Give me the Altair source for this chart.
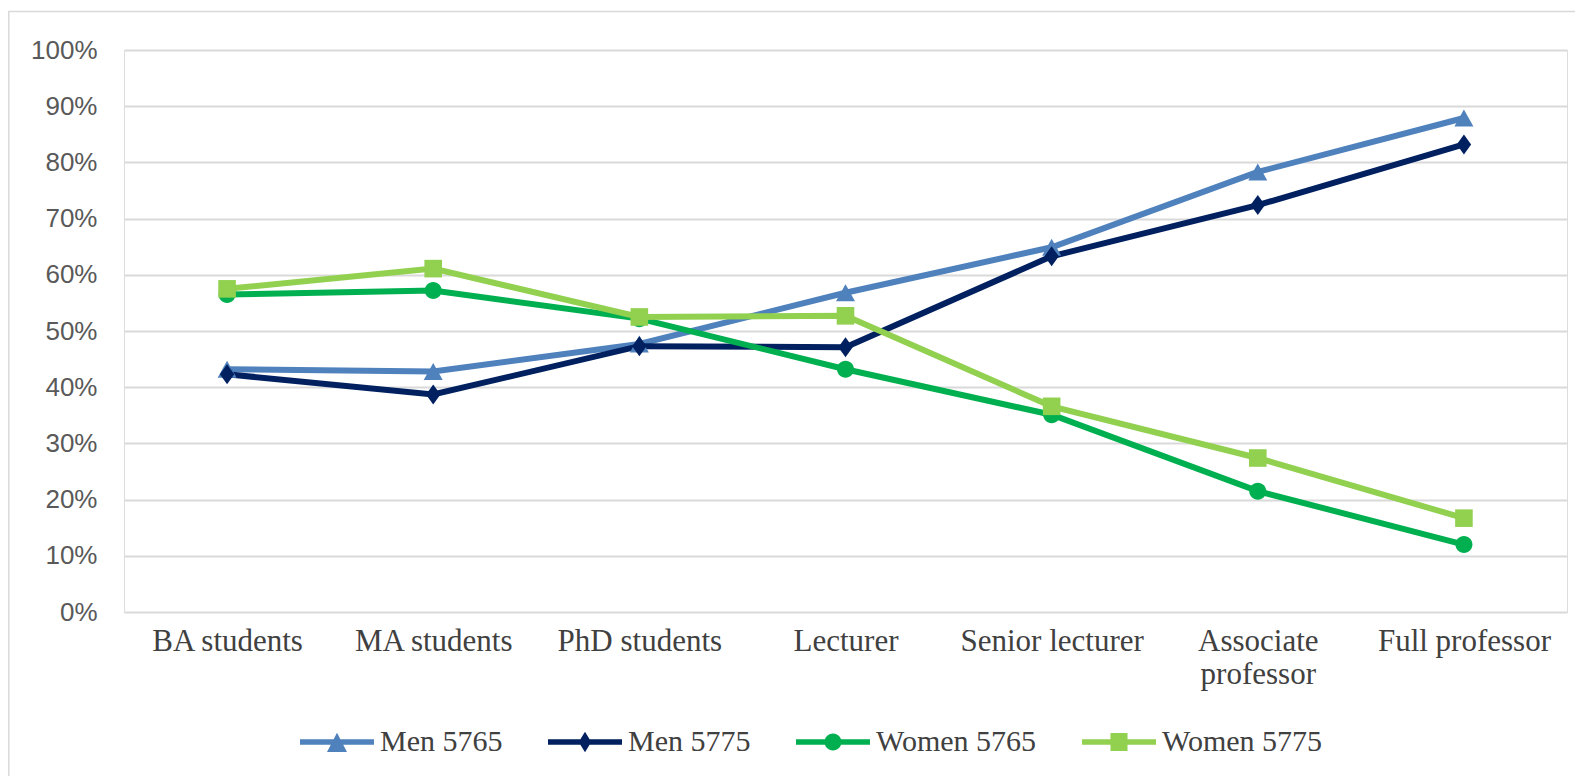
import altair as alt
import pandas as pd

categories = ["BA students", "MA students", "PhD students", "Lecturer",
              "Senior lecturer", "Associate professor", "Full professor"]
series_names = ["Men 5765", "Men 5775", "Women 5765", "Women 5775"]
men_5765 = [0.432, 0.428, 0.477, 0.568, 0.649, 0.783, 0.879]
men_5775 = [0.423, 0.387, 0.473, 0.471, 0.633, 0.724, 0.832]
women_5765 = [0.565, 0.572, 0.522, 0.432, 0.351, 0.215, 0.120]
women_5775 = [0.575, 0.611, 0.525, 0.527, 0.366, 0.274, 0.167]
y_ticks = [0.0, 0.1, 0.2, 0.3, 0.4, 0.5, 0.6, 0.7, 0.8, 0.9, 1.0]
colors = ["#4F81BD", "#002060", "#00B050", "#92D050"]

series_values = [men_5765, men_5775, women_5765, women_5775]
rows = []
for name, vals in zip(series_names, series_values):
    for i, (c, v) in enumerate(zip(categories, vals)):
        rows.append({"category": c, "series": name, "value": v, "idx": i})
df = pd.DataFrame(rows)

# marker shapes in plot (unit = sqrt(size)/2 = 10px)
plot_shapes = [
    "M-0.95,0.85L0,-0.85L0.95,0.85Z",
    "M0,-1L0.72,0L0,1L-0.72,0Z",
    "M-0.85,0A0.85,0.85,0,1,1,0.85,0A0.85,0.85,0,1,1,-0.85,0Z",
    "M-0.88,-0.88H0.88V0.88H-0.88Z",
]
bar = "M-1,-0.075H1V0.075H-1Z "
legend_shapes = [
    bar + "M-0.27,0.27L0,-0.25L0.27,0.27Z",
    bar + "M0,-0.28L0.17,0L0,0.28L-0.17,0Z",
    bar + "M-0.23,0A0.23,0.23,0,1,1,0.23,0A0.23,0.23,0,1,1,-0.23,0Z",
    bar + "M-0.23,-0.24H0.23V0.24H-0.23Z",
]

W, H = 1443, 562


def cscale():
    return alt.Scale(domain=series_names, range=colors)


x_enc = alt.X("category:N", sort=categories, scale=alt.Scale(type="point", padding=0.5),
              axis=alt.Axis(title=None, ticks=False, domain=False, grid=False,
                            labelAngle=0, labelFont="Liberation Serif", labelFontSize=31,
                            labelColor="#404040", labelPadding=14, labelLineHeight=33,
                            labelBaseline="top", labelLimit=600,
                            labelExpr="datum.label == 'Associate professor' ? ['Associate', 'professor'] : datum.label"))
y_enc = alt.Y("value:Q", scale=alt.Scale(domain=[0, 1], nice=False),
              axis=alt.Axis(title=None, values=y_ticks, format=".0%", ticks=False, domain=False,
                            grid=True, gridColor="#d9d9d9", gridWidth=2,
                            labelFont="Liberation Sans", labelFontSize=26,
                            labelColor="#595959", labelPadding=27))

base = alt.Chart(df)

lines = base.mark_line(strokeWidth=6).encode(
    x=x_enc, y=y_enc,
    color=alt.Color("series:N", scale=cscale(), legend=None),
    order="idx:Q",
)

points = base.mark_point(filled=True, opacity=1, size=400, strokeWidth=0).encode(
    x=alt.X("category:N", sort=categories),
    y="value:Q",
    color=alt.Color("series:N", scale=cscale(), legend=None),
    shape=alt.Shape("series:N", scale=alt.Scale(domain=series_names, range=plot_shapes), legend=None),
)

leg = dict(title=None, orient="none", direction="horizontal",
           legendX=176, legendY=655, padding=0,
           symbolSize=5476, symbolStrokeWidth=0, symbolOpacity=1,
           labelFont="Liberation Serif", labelFontSize=30,
           labelColor="#404040", labelLimit=400, labelOffset=6,
           columnPadding=45)

legend_layer = base.mark_point(filled=True, opacity=0, size=10).encode(
    x=alt.X("category:N", sort=categories),
    y="value:Q",
    color=alt.Color("series:N", scale=cscale(), legend=alt.Legend(**leg)),
    shape=alt.Shape("series:N", scale=alt.Scale(domain=series_names, range=legend_shapes),
                    legend=alt.Legend(**leg)),
)

frame = alt.Chart(pd.DataFrame({"a": [0]})).mark_rect(
    fill="transparent", stroke="#d9d9d9", strokeWidth=1.5
).encode(
    x=alt.value(-115.2), x2=alt.value(W + 60),
    y=alt.value(-38.5), y2=alt.value(H + 300),
)

chart = alt.layer(frame, lines, points, legend_layer).resolve_scale(
    shape="independent", color="independent"
).properties(
    width=W, height=H,
    autosize=alt.AutoSizeParams(type="none"),
    padding={"left": 116, "top": 42, "right": 8, "bottom": 164},
).configure_view(stroke=None).configure(background="white")

chart.save("out.html", embed_options={"renderer": "svg", "actions": False})
